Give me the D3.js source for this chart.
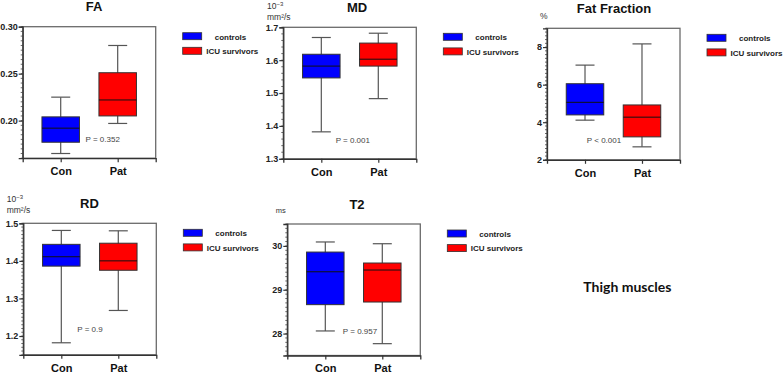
<!DOCTYPE html>
<meta charset="utf-8" />
<script src="https://d3js.org/d3.v7.js"></script>
<style>
  body { margin: 0; background: #fff; }
  svg { font-family: "Liberation Sans", Arial, sans-serif; }
</style>
<div id="chart"></div>
<script>
  // ---- data ----
  const categories = ["Con", "Pat"];
  const legendLabels = ["controls", "ICU survivors"];
  const panelTitles = ["FA", "MD", "Fat Fraction", "RD", "T2"];
  const pLabels = ["P = 0.352", "P = 0.001", "P < 0.001", "P = 0.9", "P = 0.957"];

  // [whisker low, Q1, median, Q3, whisker high]
  const conStats = [
    [0.165, 0.177, 0.192, 0.204, 0.225],
    [1.382, 1.546, 1.582, 1.618, 1.669],
    [4.11, 4.39, 5.06, 6.05, 7.04],
    [1.182, 1.386, 1.411, 1.444, 1.481],
    [28.06, 28.66, 29.41, 29.86, 30.09]
  ];
  const patStats = [
    [0.197, 0.205, 0.222, 0.251, 0.28],
    [1.483, 1.582, 1.603, 1.652, 1.682],
    [2.69, 3.22, 4.27, 4.92, 8.17],
    [1.268, 1.375, 1.4, 1.447, 1.48],
    [27.77, 28.72, 29.45, 29.61, 30.05]
  ];

  const yDomains = [[0.16, 0.3], [1.3, 1.7], [2, 9], [1.15, 1.5], [27.5, 30.5]];
  const yTicks = [
    [0.2, 0.25, 0.3],
    [1.3, 1.4, 1.5, 1.6, 1.7],
    [2, 4, 6, 8],
    [1.2, 1.3, 1.4, 1.5],
    [28, 29, 30]
  ];
  const tickFormats = [".2f", ".1f", "d", ".1f", "d"];
  const minorSteps = [0.005, 0.02, 0.2, 0.01, 0.1];

  // ---- layout ----
  const W = 784, H = 373;
  const pw = 133, ph = 131.5;
  const layout = [
    { left: 22.7, top: 26.7, titleX: 94, pX: 80, pY: 115 },
    { left: 283.3, top: 27.3, titleX: 357, pX: 69.5, pY: 116 },
    { left: 547, top: 28.3, titleX: 614, pX: 57, pY: 115 },
    { left: 23.3, top: 223.3, titleX: 89.5, pX: 66.7, pY: 109 },
    { left: 287.3, top: 224, titleX: 357, pX: 72.7, pY: 110 }
  ];
  const colors = ["#0000ff", "#ff0000"];

  const svg = d3.select("#chart").append("svg")
    .attr("width", W)
    .attr("height", H);

  panelTitles.forEach((title, i) => {
    const L = layout[i];
    const g = svg.append("g").attr("transform", `translate(${L.left},${L.top})`);

    const x = d3.scalePoint().domain(categories).range([0, pw]).padding(0.667);
    const y = d3.scaleLinear().domain(yDomains[i]).range([ph, 0]);

    // frame
    g.append("rect")
      .attr("width", pw).attr("height", ph)
      .attr("fill", "none")
      .attr("stroke", "#6b6b6b")
      .attr("stroke-width", 1.3);

    // minor ticks
    const [d0, d1] = yDomains[i];
    const minor = d3.range(Math.round(d0 / minorSteps[i]), Math.round(d1 / minorSteps[i]) + 1)
      .map(k => k * minorSteps[i]);
    g.append("g").selectAll("line").data(minor).join("line")
      .attr("x1", -2).attr("x2", 0)
      .attr("y1", d => y(d)).attr("y2", d => y(d))
      .attr("stroke", "#444").attr("stroke-width", 0.8);

    // y axis
    const ya = g.append("g")
      .call(d3.axisLeft(y).tickValues(yTicks[i]).tickFormat(d3.format(tickFormats[i]))
        .tickSize(4).tickPadding(1));
    ya.select(".domain").attr("stroke", "#333").attr("stroke-width", 1.3);
    ya.selectAll(".tick line").attr("stroke", "#333").attr("stroke-width", 1.2);
    ya.selectAll(".tick text")
      .attr("font-size", 9).attr("font-weight", "bold").attr("fill", "#222");

    // x axis
    const xa = g.append("g").attr("transform", `translate(0,${ph})`)
      .call(d3.axisBottom(x).tickSize(4).tickPadding(5));
    xa.select(".domain").attr("stroke", "#333").attr("stroke-width", 1.3);
    xa.selectAll(".tick line").attr("stroke", "#333").attr("stroke-width", 1.2);
    xa.selectAll(".tick text")
      .attr("font-size", 11).attr("font-weight", "bold").attr("fill", "#111");

    // boxes
    const stats = [conStats[i], patStats[i]];
    const bw = 37.5, cw = 19;
    const box = g.append("g").selectAll("g").data(stats).join("g")
      .attr("transform", (d, j) => `translate(${x(categories[j])},0)`);

    box.append("line")
      .attr("x1", 0).attr("x2", 0)
      .attr("y1", d => y(d[0])).attr("y2", d => y(d[4]))
      .attr("stroke", "#555").attr("stroke-width", 1.2);
    box.append("line")
      .attr("x1", -cw / 2).attr("x2", cw / 2)
      .attr("y1", d => y(d[0])).attr("y2", d => y(d[0]))
      .attr("stroke", "#555").attr("stroke-width", 1.2);
    box.append("line")
      .attr("x1", -cw / 2).attr("x2", cw / 2)
      .attr("y1", d => y(d[4])).attr("y2", d => y(d[4]))
      .attr("stroke", "#555").attr("stroke-width", 1.2);
    box.append("rect")
      .attr("x", -bw / 2).attr("width", bw)
      .attr("y", d => y(d[3]))
      .attr("height", d => y(d[1]) - y(d[3]))
      .attr("fill", (d, j) => colors[j])
      .attr("stroke", "#333").attr("stroke-width", 1);
    box.append("line")
      .attr("x1", -bw / 2).attr("x2", bw / 2)
      .attr("y1", d => y(d[2])).attr("y2", d => y(d[2]))
      .attr("stroke", "#111").attr("stroke-width", 1);

    // p value
    g.append("text")
      .attr("x", L.pX).attr("y", L.pY)
      .attr("text-anchor", "middle")
      .attr("font-size", 8).attr("fill", "#444")
      .text(pLabels[i]);

    // title
    svg.append("text")
      .attr("x", L.titleX).attr("y", L.top - 15.3)
      .attr("text-anchor", "middle")
      .attr("font-size", 13).attr("font-weight", "bold").attr("fill", "#111")
      .text(title);

    // legend
    const lg = svg.append("g")
      .attr("transform", `translate(${L.left + pw + 27},${L.top + 6})`);
    legendLabels.forEach((lab, j) => {
      lg.append("rect")
        .attr("x", 0).attr("y", j * 14.6)
        .attr("width", 19).attr("height", 7)
        .attr("fill", colors[j]).attr("stroke", "#333").attr("stroke-width", 0.8);
      lg.append("text")
        .attr("x", j === 0 ? 32 : 23.5).attr("y", j * 14.6 + 6.8)
        .attr("font-size", 8).attr("font-weight", "bold").attr("fill", "#222")
        .text(lab);
    });
  });

  // unit labels
  function unitLabel(xp, yp) {
    const t = svg.append("text").attr("x", xp).attr("y", yp)
      .attr("font-size", 8.5).attr("fill", "#333");
    t.append("tspan").text("10");
    t.append("tspan").attr("font-size", 6).attr("dy", -3).text("−3");
    svg.append("text").attr("x", xp).attr("y", yp + 11)
      .attr("font-size", 8.5).attr("fill", "#333").text("mm²/s");
  }
  unitLabel(267, 8.5);
  unitLabel(6.7, 201.5);
  svg.append("text").attr("x", 540).attr("y", 18.5)
    .attr("font-size", 8.5).attr("fill", "#333").text("%");
  svg.append("text").attr("x", 275.7).attr("y", 213)
    .attr("font-size", 7.5).attr("fill", "#333").text("ms");

  svg.append("text")
    .attr("x", 583.3).attr("y", 291.5)
    .attr("font-family", "Lato, 'Open Sans', sans-serif")
    .attr("font-size", 14).attr("font-weight", "bold").attr("fill", "#111")
    .text("Thigh muscles");
</script>
